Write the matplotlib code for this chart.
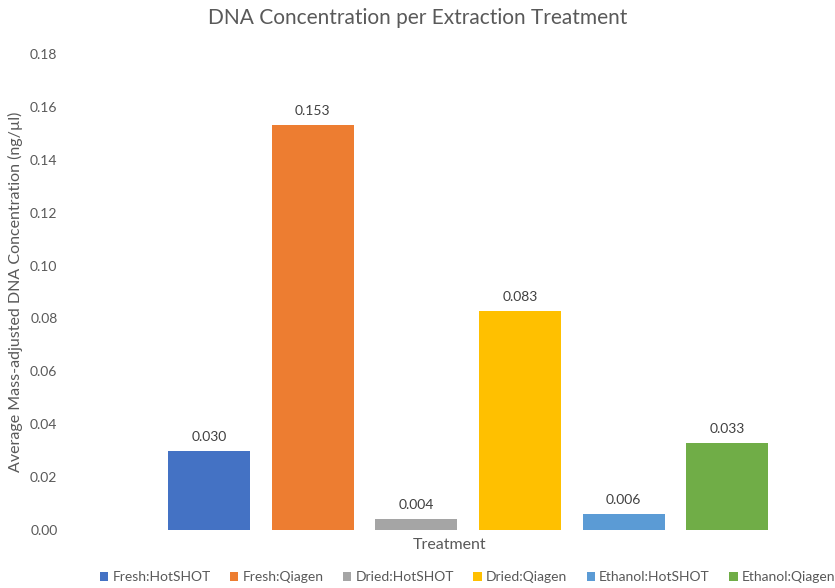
import matplotlib
matplotlib.use("Agg")
from matplotlib import pyplot as plt

treatments = ["Fresh:HotSHOT", "Fresh:Qiagen", "Dried:HotSHOT",
              "Dried:Qiagen", "Ethanol:HotSHOT", "Ethanol:Qiagen"]
concentration = [0.030, 0.153, 0.004, 0.083, 0.006, 0.033]
value_labels = ["0.030", "0.153", "0.004", "0.083", "0.006", "0.033"]
colors = ["#4472C4", "#ED7D31", "#A5A5A5", "#FFC000", "#5B9BD5", "#70AD47"]
yticks = [0.00, 0.02, 0.04, 0.06, 0.08, 0.10, 0.12, 0.14, 0.16, 0.18]

plt.rcParams['font.family'] = ['Lato', 'DejaVu Sans']
grey = "#595959"

fig = plt.figure(figsize=(8.35, 5.88), dpi=100)
ax = fig.add_axes([70/835, 58/588, 760/835, 476/588])

for i, (name, val, lab, c) in enumerate(zip(treatments, concentration, value_labels, colors)):
    ax.bar(i, val, width=0.79, color=c, label=name)
    ax.text(i, val + 0.003, lab, ha="center", va="bottom", fontsize=10, color="#404040")

ax.set_xlim(-1.34, 5.99)
ax.set_ylim(0, 0.18)
ax.set_yticks(yticks)
ax.set_yticklabels(["%.2f" % t for t in yticks], fontsize=10, color=grey)
ax.set_xticks([])
ax.tick_params(axis="y", length=0, pad=9)
for s in ax.spines.values():
    s.set_visible(False)

ax.set_ylabel("Average Mass-adjusted DNA Concentration (ng/µl)", fontsize=11.5, color=grey, labelpad=5)
ax.set_xlabel("Treatment", fontsize=11.5, color=grey, labelpad=6)
fig.text(0.5, 1 - 18/588, "DNA Concentration per Extraction Treatment",
         ha="center", va="center", fontsize=15, color=grey)

fig.legend(loc="center", bbox_to_anchor=(0.56, 1 - 577/588), ncol=6, frameon=False,
           fontsize=10, handlelength=0.6, handleheight=0.6, handletextpad=0.3,
           columnspacing=1.4, labelcolor=grey)

fig.savefig("out.png", dpi=100)
